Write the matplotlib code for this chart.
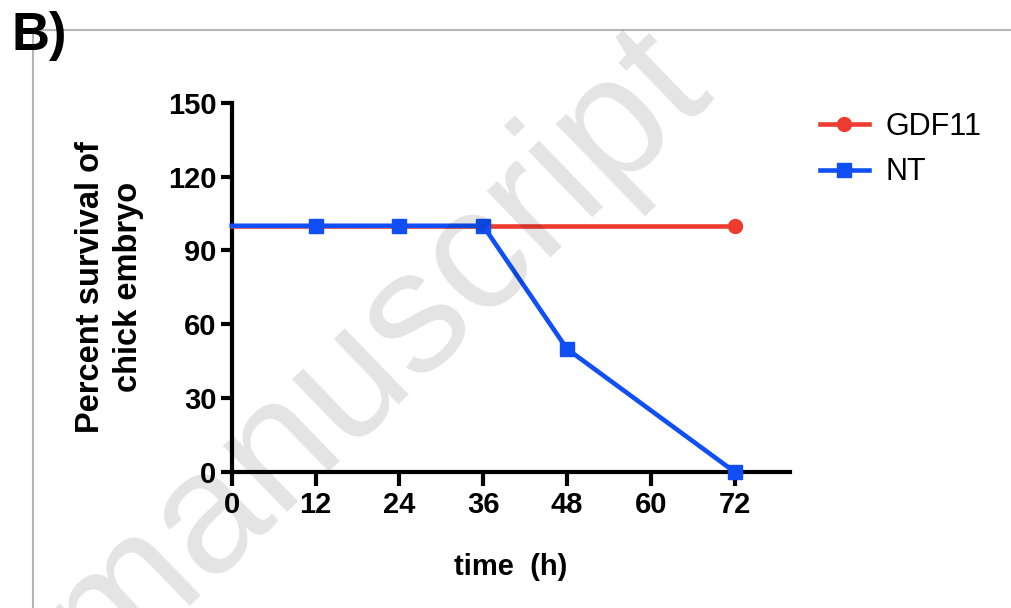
import matplotlib.pyplot as plt
from matplotlib.lines import Line2D

plt.rcParams['font.family'] = ['Liberation Sans', 'DejaVu Sans']

# data
time_gdf11 = [0, 12, 24, 36, 72]
surv_gdf11 = [100, 100, 100, 100, 100]
time_nt = [0, 12, 24, 36, 48, 72]
surv_nt = [100, 100, 100, 100, 50, 0]

x_ticks = [0, 12, 24, 36, 48, 60, 72]
y_ticks = [0, 30, 60, 90, 120, 150]

RED = '#ee3b2f'
BLUE = '#0f4ff5'

fig = plt.figure(figsize=(10.12, 6.08), dpi=100)
ax = fig.add_axes([0.229, 0.224, 0.552, 0.607])

ax.plot(time_gdf11, surv_gdf11, color=RED, lw=3.3, marker='o', ms=10,
        markevery=[1, 2, 3, 4], label='GDF11', clip_on=False, zorder=3)
ax.plot(time_nt, surv_nt, color=BLUE, lw=3.3, marker='s', ms=10,
        markevery=[1, 2, 3, 4, 5], label='NT', clip_on=False, zorder=4)

ax.set_xlim(0, 80)
ax.set_ylim(0, 150)
ax.set_xticks(x_ticks)
ax.set_yticks(y_ticks)
for s in ['top', 'right']:
    ax.spines[s].set_visible(False)
for s in ['left', 'bottom']:
    ax.spines[s].set_linewidth(3)
ax.tick_params(width=3, labelsize=21)
ax.tick_params(axis='x', length=10, pad=4)
ax.tick_params(axis='y', length=8, pad=3)
for lbl in ax.get_xticklabels() + ax.get_yticklabels():
    lbl.set_fontweight('bold')

ax.set_xlabel('time  (h)', fontsize=21, fontweight='bold', labelpad=24)
ax.set_ylabel('Percent survival of\nchick embryo', fontsize=23.5,
              fontweight='bold', labelpad=17, linespacing=1.3)

ax.legend(loc='upper left', bbox_to_anchor=(820 / 1012, 1 - 112 / 608),
          bbox_transform=fig.transFigure, frameon=False, fontsize=22,
          handlelength=1.6, handletextpad=0.55, labelspacing=0.5,
          borderpad=0, borderaxespad=0)

# panel frame and label
fig.add_artist(Line2D([33 / 1012, 1], [1 - 30 / 608] * 2, color='#b5b5b5', lw=1.5))
fig.add_artist(Line2D([33 / 1012] * 2, [0, 1 - 30 / 608], color='#b5b5b5', lw=1.5))
fig.text(12 / 1012, 1 - 50 / 608, 'B)', fontsize=38, fontweight='bold')

# watermark
fig.text(0.677, 0.893, 'Accepted manuscript', fontsize=125, color='black',
         alpha=0.11, rotation=44, rotation_mode='anchor', ha='right',
         va='center', zorder=10)

fig.savefig('out.png', dpi=100)
